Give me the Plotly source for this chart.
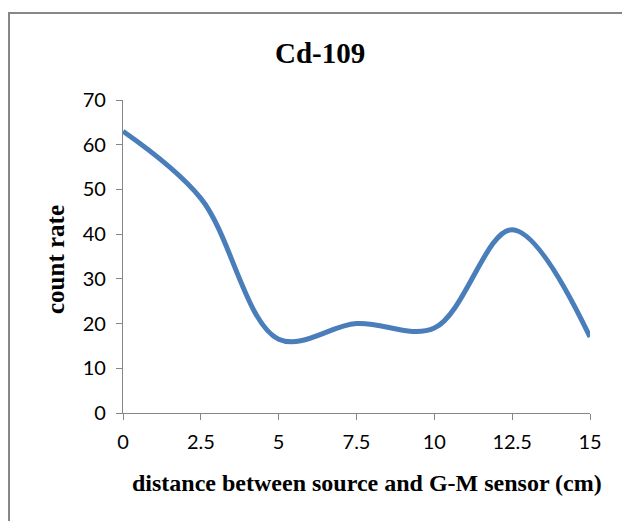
import plotly.graph_objects as go

# distance (cm) and measured count rate
distance = [0, 2.5, 5, 7.5, 10, 12.5, 15]
count_rate = [63, 48, 16.5, 20, 19, 41, 17]

x_ticks = [0, 2.5, 5, 7.5, 10, 12.5, 15]
x_tick_text = ["0", "2.5", "5", "7.5", "10", "12.5", "15"]
y_ticks = [0, 10, 20, 30, 40, 50, 60, 70]

W, H = 630, 521
OFF = 8  # page body margin shifts the figure by this much
L, T = 123 - OFF, 100 - OFF
pw, ph = 590 - 123, 413 - 100
R, B = W - L - pw, H - T - ph


def px_x(x):
    return (x - OFF - L) / pw


def px_y(y):
    return (T + ph - (y - OFF)) / ph


fig = go.Figure()
fig.add_trace(go.Scatter(
    x=distance, y=count_rate, mode="lines",
    line=dict(color="#4A7EBB", width=5, shape="spline", smoothing=1.0),
    showlegend=False, cliponaxis=False,
))

axis_common = dict(
    showgrid=False, zeroline=False, showline=True, linecolor="#868686", linewidth=1.2,
    ticks="outside", ticklen=6, tickcolor="#868686", tickwidth=1.2,
    tickfont=dict(family="Lato, Open Sans, sans-serif", size=20, color="#000000"),
)

fig.update_xaxes(range=[0, 15], tickvals=x_ticks, ticktext=x_tick_text,
                 ticklabelstandoff=5, **axis_common)
fig.update_yaxes(range=[0, 70], tickvals=y_ticks, ticklabelstandoff=6, **axis_common)

# outer chart border (runs past the right/bottom edge of the image)
fig.add_shape(type="rect", xref="paper", yref="paper",
              x0=px_x(OFF + 1), x1=px_x(W + 30), y0=px_y(H + 30), y1=px_y(13),
              line=dict(color="#878787", width=2), layer="below")

serif = "Liberation Serif, Times New Roman, serif"
labels = [
    ("<b>Cd-109</b>", 320, 53, 0, 29),
    ("<b>distance between source and G-M sensor (cm)</b>", 367, 483, 0, 24),
    ("<b>count rate</b>", 55, 260, -90, 25),
]
for text, lx, ly, ang, size in labels:
    fig.add_annotation(text=text, xref="paper", yref="paper", x=px_x(lx), y=px_y(ly),
                       xanchor="center", yanchor="middle", showarrow=False, textangle=ang,
                       font=dict(family=serif, size=size, color="#000"))

fig.update_layout(
    width=W, height=H,
    margin=dict(l=L, r=R, t=T, b=B),
    paper_bgcolor="white", plot_bgcolor="white",
)

fig.write_html("out.html")
